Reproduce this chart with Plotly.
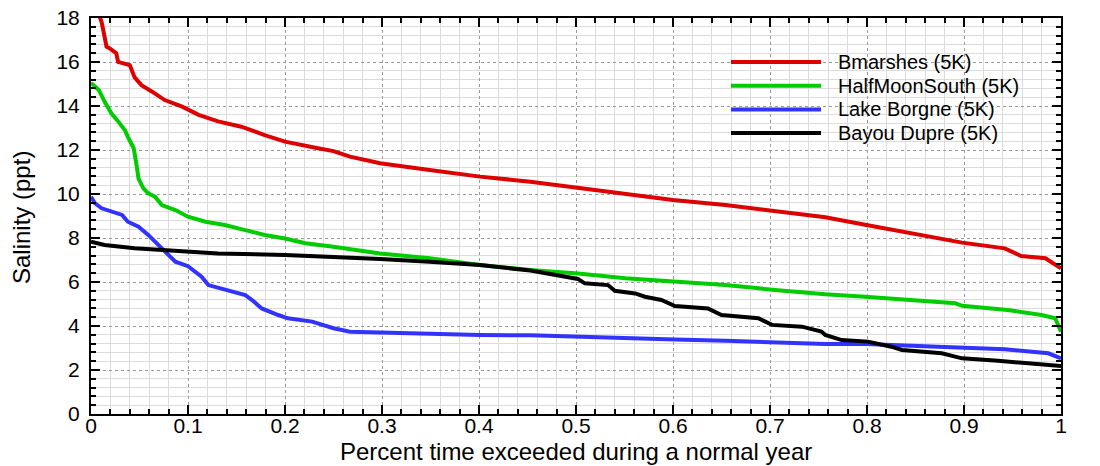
import plotly.graph_objects as go

# ---------------- data ----------------
series_names = ["Bmarshes (5K)", "HalfMoonSouth (5K)", "Lake Borgne (5K)", "Bayou Dupre (5K)"]
series_colors = ["#dd0000", "#00cc00", "#3333ff", "#000000"]

bmarshes_x = [0.0, 0.007, 0.011, 0.016, 0.020, 0.026, 0.028, 0.035, 0.040, 0.045, 0.052, 0.063, 0.076,
              0.094, 0.111, 0.131, 0.155, 0.179, 0.200, 0.234, 0.250, 0.267, 0.298, 0.349, 0.401,
              0.453, 0.504, 0.533, 0.568, 0.600, 0.654, 0.698, 0.739, 0.757, 0.798, 0.849, 0.898,
              0.942, 0.959, 0.984, 1.0]
bmarshes_y = [19.5, 18.3, 17.8, 16.7, 16.6, 16.4, 16.0, 15.9, 15.86, 15.3, 14.95, 14.65, 14.27,
              13.97, 13.6, 13.3, 13.06, 12.68, 12.38, 12.08, 11.95, 11.7, 11.4, 11.09, 10.79,
              10.56, 10.26, 10.1, 9.88, 9.73, 9.5, 9.27, 9.05, 8.94, 8.6, 8.2, 7.79,
              7.53, 7.18, 7.08, 6.62]

halfmoon_x = [0.0, 0.008, 0.014, 0.021, 0.028, 0.035, 0.038, 0.044, 0.047, 0.049, 0.054, 0.059, 0.066,
              0.073, 0.087, 0.100, 0.118, 0.138, 0.159, 0.179, 0.200, 0.221, 0.250, 0.298, 0.349,
              0.401, 0.453, 0.502, 0.551, 0.600, 0.654, 0.705, 0.757, 0.798, 0.849, 0.891, 0.898,
              0.945, 0.980, 0.994, 1.0]
halfmoon_y = [15.05, 14.73, 14.2, 13.67, 13.3, 12.9, 12.6, 12.08, 11.3, 10.7, 10.26, 10.03, 9.88,
              9.5, 9.27, 8.97, 8.74, 8.59, 8.36, 8.14, 7.98, 7.76, 7.6, 7.3, 7.08,
              6.77, 6.55, 6.39, 6.17, 6.02, 5.86, 5.64, 5.44, 5.33, 5.18, 5.03, 4.92,
              4.73, 4.5, 4.35, 3.74]

borgne_x = [0.0, 0.004, 0.011, 0.021, 0.032, 0.038, 0.049, 0.059, 0.066, 0.076, 0.087, 0.100, 0.114,
            0.121, 0.138, 0.159, 0.166, 0.176, 0.193, 0.203, 0.228, 0.250, 0.267, 0.298, 0.349,
            0.401, 0.453, 0.504, 0.551, 0.602, 0.654, 0.705, 0.757, 0.798, 0.849, 0.901, 0.942,
            0.970, 0.987, 1.0]
borgne_y = [9.88, 9.58, 9.35, 9.2, 9.05, 8.74, 8.51, 8.14, 7.83, 7.38, 6.92, 6.72, 6.24,
            5.86, 5.64, 5.41, 5.18, 4.8, 4.5, 4.35, 4.2, 3.9, 3.74, 3.7, 3.64,
            3.59, 3.58, 3.53, 3.48, 3.39, 3.33, 3.24, 3.18, 3.18, 3.1, 3.03, 2.94,
            2.83, 2.76, 2.53]

dupre_x = [0.0, 0.014, 0.045, 0.080, 0.131, 0.200, 0.250, 0.298, 0.349, 0.401, 0.453, 0.480, 0.502,
           0.509, 0.533, 0.540, 0.561, 0.571, 0.588, 0.602, 0.636, 0.650, 0.688, 0.702, 0.733,
           0.753, 0.757, 0.774, 0.801, 0.825, 0.836, 0.877, 0.898, 0.935, 0.970, 1.0]
dupre_y = [7.83, 7.68, 7.53, 7.45, 7.3, 7.23, 7.15, 7.05, 6.92, 6.77, 6.52, 6.32, 6.14,
           5.94, 5.86, 5.6, 5.48, 5.33, 5.18, 4.91, 4.8, 4.5, 4.35, 4.05, 3.97,
           3.75, 3.59, 3.36, 3.29, 3.06, 2.91, 2.76, 2.53, 2.42, 2.3, 2.18]

series_x = [bmarshes_x, halfmoon_x, borgne_x, dupre_x]
series_y = [bmarshes_y, halfmoon_y, borgne_y, dupre_y]

x_title = "Percent time exceeded during a normal year"
y_title = "Salinity (ppt)"

# ---------------- figure ----------------
FONT = "Liberation Sans, Arial, sans-serif"
W, H = 1100, 466
ML, MR, MT, MB = 91, 39, 18, 52
PW, PH = W - ML - MR, H - MT - MB

fig = go.Figure()
for name, col, xs, ys in zip(series_names, series_colors, series_x, series_y):
    fig.add_trace(go.Scatter(x=xs, y=ys, mode="lines", name=name,
                             line=dict(color=col, width=4), showlegend=False))

axis_common = dict(
    showline=True, linecolor="black", linewidth=2, mirror="allticks",
    ticks="inside", ticklen=9, tickwidth=1.5, tickcolor="black",
    showgrid=True, gridcolor="#9a9a9a", griddash="dot", gridwidth=1,
    zeroline=False, automargin=False,
    tickfont=dict(family=FONT, size=21, color="black"),
)

fig.update_xaxes(
    range=[0, 1], dtick=0.1, tick0=0,
    minor=dict(dtick=0.02, ticks="inside", ticklen=5, tickcolor="black",
               showgrid=True, gridcolor="#dcdcdc", griddash="solid", gridwidth=1),
    ticklabelstandoff=-8,
    **axis_common,
)
fig.update_yaxes(
    range=[0, 18], dtick=2, tick0=0,
    minor=dict(dtick=0.4, ticks="inside", ticklen=5, tickcolor="black",
               showgrid=True, gridcolor="#dcdcdc", griddash="solid", gridwidth=1),
    ticklabelstandoff=5,
    **axis_common,
)

fig.update_layout(
    yaxis2=dict(overlaying="y", side="right", anchor="x", range=[0, 18], dtick=2, tick0=0,
                showgrid=False, zeroline=False, showline=False, ticks="", automargin=False,
                ticklabelstandoff=11,
                tickfont=dict(family=FONT, size=21, color="black")),
)

# axis titles as annotations (placed like the original)
fig.add_annotation(xref="paper", yref="paper", x=0.5 + (576 - ML - PW / 2) / PW, y=-(451 - MT - PH) / PH,
                   text=x_title, showarrow=False, xanchor="center", yanchor="middle",
                   font=dict(family=FONT, size=24, color="black"))
fig.add_annotation(xref="paper", yref="paper", x=(22 - ML) / PW, y=(MT + PH - 218) / PH,
                   text=y_title, showarrow=False, xanchor="center", yanchor="middle", textangle=-90,
                   font=dict(family=FONT, size=24, color="black"))

# manual legend (long line samples like the original)
leg_x0, leg_x1, leg_tx = (731 - ML) / PW, (821 - ML) / PW, (836 - ML) / PW
leg_top, leg_step = (MT + PH - 62) / PH, 23.7 / PH
for i, (name, col) in enumerate(zip(series_names, series_colors)):
    yy = leg_top - i * leg_step
    fig.add_shape(type="line", xref="paper", yref="paper", x0=leg_x0, x1=leg_x1, y0=yy, y1=yy,
                  line=dict(color=col, width=4))
    fig.add_annotation(xref="paper", yref="paper", x=leg_tx, y=yy, text=name, showarrow=False,
                       xanchor="left", yanchor="middle",
                       font=dict(family=FONT, size=20, color="black"))

fig.update_layout(
    width=W, height=H,
    margin=dict(l=ML, r=MR, t=MT, b=MB, autoexpand=False),
    plot_bgcolor="white", paper_bgcolor="white",
    showlegend=False,
)

fig.write_html("out.html")
